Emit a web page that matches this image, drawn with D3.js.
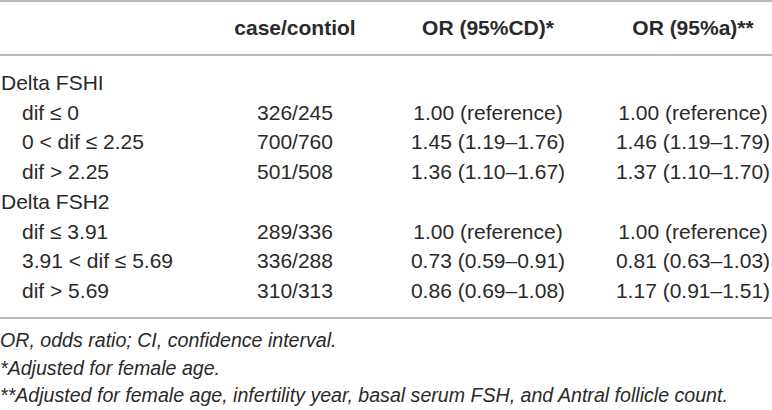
<!DOCTYPE html>
<html>
<head>
<meta charset="utf-8">
<script src="https://cdn.jsdelivr.net/npm/d3@7"></script>
<style>
  body { margin: 0; background: #fff; }
  svg { display: block; }
</style>
</head>
<body>
<script>
const width = 772;
const height = 410;

// table content
const headers = ["case/contiol", "OR (95%CD)*", "OR (95%a)**"];
const groups = ["Delta FSHI", "Delta FSH2"];
const levels = [
  ["dif \u2264 0", "0 < dif \u2264 2.25", "dif > 2.25"],
  ["dif \u2264 3.91", "3.91 < dif \u2264 5.69", "dif > 5.69"]
];
const caseControl = [
  ["326/245", "700/760", "501/508"],
  ["289/336", "336/288", "310/313"]
];
const orCrude = [
  ["1.00 (reference)", "1.45 (1.19\u20131.76)", "1.36 (1.10\u20131.67)"],
  ["1.00 (reference)", "0.73 (0.59\u20130.91)", "0.86 (0.69\u20131.08)"]
];
const orAdjusted = [
  ["1.00 (reference)", "1.46 (1.19\u20131.79)", "1.37 (1.10\u20131.70)"],
  ["1.00 (reference)", "0.81 (0.63\u20131.03)", "1.17 (0.91\u20131.51)"]
];
const footnotes = [
  "OR, odds ratio; CI, confidence interval.",
  "*Adjusted for female age.",
  "**Adjusted for female age, infertility year, basal serum FSH, and Antral follicle count."
];

// flatten into rows: group label rows followed by their level rows
const rows = [];
groups.forEach(function (g, gi) {
  rows.push({ label: g, indent: false, cells: ["", "", ""] });
  levels[gi].forEach(function (lv, li) {
    rows.push({
      label: lv,
      indent: true,
      cells: [caseControl[gi][li], orCrude[gi][li], orAdjusted[gi][li]]
    });
  });
});

const svg = d3.select("body").append("svg")
  .attr("width", width)
  .attr("height", height);

const textColor = "#2a2a2a";
const ruleColor = "#a3a3a3";
const font = "'Liberation Sans', Arial, sans-serif";

const y = d3.scaleLinear()
  .domain([0, rows.length - 1])
  .range([90, 298]);

const colX = d3.scaleOrdinal()
  .domain([0, 1, 2])
  .range([295, 488, 693]);

const footY = d3.scaleLinear()
  .domain([0, footnotes.length - 1])
  .range([347, 402]);

// rules
svg.selectAll("line.rule")
  .data([1, 55, 318])
  .enter()
  .append("line")
    .attr("class", "rule")
    .attr("x1", 0)
    .attr("x2", width)
    .attr("y1", function (d) { return d; })
    .attr("y2", function (d) { return d; })
    .attr("stroke", ruleColor)
    .attr("stroke-width", 1.5);

// header
svg.selectAll("text.header")
  .data(headers)
  .enter()
  .append("text")
    .attr("class", "header")
    .text(function (d) { return d; })
    .attr("x", function (d, i) { return colX(i); })
    .attr("y", 35)
    .attr("text-anchor", "middle")
    .attr("font-family", font)
    .attr("font-weight", "bold")
    .attr("font-size", 21)
    .attr("fill", textColor);

// row labels
svg.selectAll("text.label")
  .data(rows)
  .enter()
  .append("text")
    .attr("class", "label")
    .text(function (d) { return d.label; })
    .attr("x", function (d) { return d.indent ? 22 : 1; })
    .attr("y", function (d, i) { return y(i); })
    .attr("font-family", font)
    .attr("font-size", 21)
    .attr("fill", textColor);

// cells
const rowG = svg.selectAll("g.row")
  .data(rows)
  .enter()
  .append("g")
    .attr("class", "row")
    .attr("transform", function (d, i) { return "translate(0," + y(i) + ")"; });

rowG.selectAll("text")
  .data(function (d) { return d.cells; })
  .enter()
  .append("text")
    .text(function (d) { return d; })
    .attr("x", function (d, i) { return colX(i); })
    .attr("text-anchor", "middle")
    .attr("font-family", font)
    .attr("font-size", 21)
    .attr("fill", textColor);

// footnotes
svg.selectAll("text.foot")
  .data(footnotes)
  .enter()
  .append("text")
    .attr("class", "foot")
    .text(function (d) { return d; })
    .attr("x", 0)
    .attr("y", function (d, i) { return footY(i); })
    .attr("font-family", font)
    .attr("font-style", "italic")
    .attr("font-size", 19.6)
    .attr("fill", textColor);
</script>
</body>
</html>
